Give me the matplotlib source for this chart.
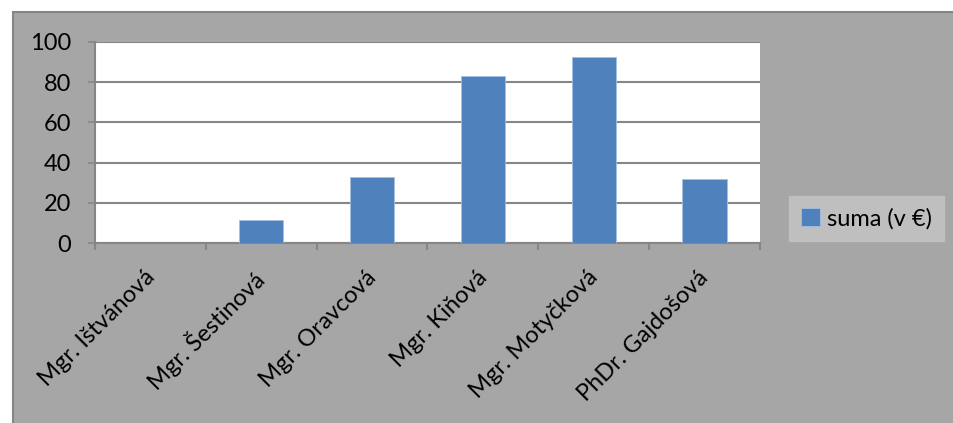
import matplotlib
matplotlib.use("Agg")
import matplotlib.pyplot as plt
import matplotlib.transforms as mtransforms
from matplotlib.patches import Rectangle
import numpy as np

names = ["Mgr. Ištvánová", "Mgr. Šestinová", "Mgr. Oravcová",
         "Mgr. Kiňová", "Mgr. Motyčková", "PhDr. Gajdošová"]
sums = [0, 11.5, 33, 83, 92.5, 32]
series_label = "suma (v €)"
y_ticks = [0, 20, 40, 60, 80, 100]

W, H = 954, 423
plt.rcParams['font.family'] = ['Lato', 'DejaVu Sans']
fs = 17

fig = plt.figure(figsize=(W / 100, H / 100), dpi=100, facecolor="white")

# gray chart area with darker border on top/left
bg = Rectangle((13 / W, -0.1), 1.2, 1 - 12 / H + 0.1, transform=fig.transFigure,
               facecolor="#a6a6a6", edgecolor="#868686", linewidth=1.5, zorder=-10)
fig.patches.append(bg)

ax = fig.add_axes([95 / W, 1 - 243 / H, 665 / W, 201 / H])
ax.set_facecolor("white")

x = np.arange(len(names))
ax.bar(x, sums, width=0.4, color="#4f81bd", edgecolor="#a7bfde", linewidth=0.6,
       zorder=3, label=series_label)

ax.set_xlim(-0.5, len(names) - 0.5)
ax.set_ylim(0, 100)
ax.set_yticks(y_ticks)
ax.yaxis.grid(True, color="#868686", linewidth=1.5, zorder=1)
ax.tick_params(axis="y", length=5, width=1.2, color="#868686", pad=12,
               labelsize=fs, labelcolor="black")

ax.set_xticks(x)
ax.set_xticklabels(names, rotation=45, ha="right", va="top", fontsize=fs)
ax.tick_params(axis="x", which="major", length=0, pad=17)
ax.set_xticks(np.arange(len(names) + 1) - 0.5, minor=True)
ax.tick_params(axis="x", which="minor", length=5, width=1.5, color="#868686")

# nudge the rotated labels a little to the right, like the original
shift = mtransforms.ScaledTranslation(8 / 100, 0, fig.dpi_scale_trans)
for lbl in ax.get_xticklabels():
    lbl.set_transform(lbl.get_transform() + shift)

for side in ["top", "right"]:
    ax.spines[side].set_visible(False)
for side in ["left", "bottom"]:
    ax.spines[side].set_color("#868686")
    ax.spines[side].set_linewidth(1.5)

leg = fig.legend(loc="upper left", bbox_to_anchor=(789 / W, 1 - 196 / H),
                 frameon=True, fancybox=False, fontsize=fs, handlelength=0.8,
                 handleheight=0.8, handletextpad=0.3, borderpad=0.5,
                 borderaxespad=0)
leg.get_frame().set_facecolor("#bfbfbf")
leg.get_frame().set_edgecolor("#bfbfbf")
leg.get_frame().set_alpha(1)

fig.savefig("out.png", dpi=100, facecolor="white")
